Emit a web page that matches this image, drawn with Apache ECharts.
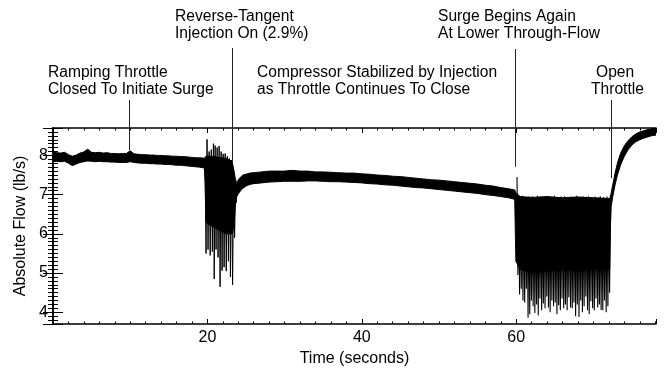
<!DOCTYPE html>
<html>
<head>
<meta charset="utf-8">
<script src="https://cdn.jsdelivr.net/npm/echarts@6/dist/echarts.min.js"></script>
<style>
html,body{margin:0;padding:0;background:#fff;}
#c{width:664px;height:372px;}
</style>
</head>
<body>
<div id="c"></div>
<script>
// ---- axis settings / tick labels ----
const xRange = [0, 78.1];
const yRange = [3.7, 8.7];
const xTickLabels = [20, 40, 60];
const yTickLabels = [4, 5, 6, 7, 8];

// ---- quiet-flow band (lower / upper edge of the noisy trace) ----
const bandT = [0,0.5,1,1.5,2,2.5,3,3.5,4,4.5,5,5.5,6,6.5,7,7.5,8,8.5,9,9.5,10,10.5,11,11.5,12,12.5,13,13.5,14,14.5,15,15.5,16,16.5,17,17.5,18,18.5,19,19.6,
  19.7,19.8,20.5,21.5,22.5,23.2,23.45,23.6,23.8,24.0,24.3,24.6,25,25.5,26,27,28,29,30,31,32,33,34,35,36,37,38,39,40,41,42,43,44,45,46,47,48,49,50,51,52,53,54,55,56,57,58,59,59.8,
  59.95,60.5,62,64,66,68,70,72.1,72.2,72.3,72.5,72.8,73.1,73.5,74,74.5,75,75.5,76,76.5,77,77.5,78.1];
const bandLo = [7.84,7.85,7.84,7.85,7.80,7.74,7.78,7.82,7.84,7.86,7.85,7.84,7.85,7.84,7.84,7.83,7.83,7.82,7.82,7.82,7.84,7.82,7.81,7.80,7.80,7.79,7.79,7.78,7.78,7.77,7.77,7.76,7.75,7.75,7.74,7.73,7.72,7.71,7.70,7.68,
  7.30,6.30,6.20,6.10,6.00,6.00,6.20,6.70,6.95,7.02,7.10,7.16,7.22,7.26,7.28,7.30,7.32,7.33,7.34,7.34,7.34,7.35,7.35,7.34,7.33,7.33,7.32,7.31,7.30,7.28,7.27,7.25,7.24,7.22,7.20,7.18,7.17,7.15,7.13,7.11,7.09,7.07,7.05,7.03,7.00,6.98,6.95,6.92,6.88,
  5.30,5.10,5.00,5.05,5.10,5.05,5.10,5.10,6.20,6.70,6.95,7.25,7.50,7.75,7.98,8.15,8.27,8.35,8.40,8.44,8.47,8.50,8.52];
const bandHi = [8.08,8.07,8.06,8.08,8.02,7.98,8.01,8.06,8.09,8.16,8.08,8.07,8.08,8.06,8.07,8.05,8.05,8.04,8.05,8.05,8.12,8.04,8.03,8.02,8.02,8.01,8.01,8.00,8.00,7.99,7.99,7.98,7.98,7.97,7.97,7.96,7.95,7.94,7.94,7.93,
  7.95,7.98,7.98,7.95,7.92,7.85,7.60,7.42,7.28,7.38,7.45,7.50,7.52,7.55,7.56,7.58,7.60,7.60,7.60,7.62,7.60,7.60,7.58,7.58,7.57,7.56,7.55,7.55,7.53,7.52,7.50,7.49,7.47,7.46,7.44,7.42,7.40,7.38,7.37,7.35,7.33,7.31,7.29,7.27,7.24,7.22,7.18,7.15,7.12,
  7.05,6.95,6.93,6.95,6.92,6.94,6.92,6.90,6.95,7.05,7.25,7.55,7.80,8.05,8.25,8.38,8.48,8.55,8.60,8.63,8.66,8.68,8.70];

// ---- first surge (t ~ 19.7 - 23.9 s): successive extremes ----
const s1T = [19.70,19.82,19.95,20.08,20.22,20.36,20.50,20.64,20.78,20.88,21.00,21.12,21.26,21.38,21.52,21.64,21.78,21.90,22.04,22.16,22.30,22.44,22.58,22.72,22.86,22.98,23.12,23.26,23.40,23.52,23.64,23.75,23.85];
const s1Y = [7.90,5.50,8.41,5.60,8.10,5.45,8.15,5.55,8.30,4.85,8.25,5.60,8.20,5.40,8.24,4.65,8.10,5.06,8.04,5.15,8.05,5.05,7.98,5.30,7.92,4.90,7.88,4.70,7.60,5.90,7.30,6.80,7.25];

// ---- second surge (t ~ 60 - 72.2 s): successive extremes ----
const s2T = [60.10,60.21,60.32,60.43,60.54,60.65,60.76,60.87,60.98,61.09,61.20,61.31,61.42,61.53,61.64,61.75,61.86,61.97,62.08,62.19,
  62.30,62.41,62.52,62.63,62.74,62.85,62.96,63.07,63.18,63.29,63.40,63.51,63.62,63.73,63.84,63.95,64.06,64.17,64.28,64.39,
  64.50,64.61,64.72,64.83,64.94,65.05,65.16,65.27,65.38,65.49,65.60,65.71,65.82,65.93,66.04,66.15,66.26,66.37,66.48,66.59,
  66.70,66.81,66.92,67.03,67.14,67.25,67.36,67.47,67.58,67.69,67.80,67.91,68.02,68.13,68.24,68.35,68.46,68.57,68.68,68.79,
  68.90,69.01,69.12,69.23,69.34,69.45,69.56,69.67,69.78,69.89,70.00,70.11,70.22,70.33,70.44,70.55,70.66,70.77,70.88,70.99,
  71.10,71.21,71.32,71.43,71.54,71.65,71.76,71.87,71.98,72.09,72.20];
const s2Y = [7.45,4.95,6.95,4.45,6.92,4.60,6.97,4.30,6.90,4.25,6.94,4.60,6.88,3.86,6.95,3.95,6.91,4.30,6.96,4.15,
  6.89,3.98,6.93,4.20,6.97,3.92,6.90,4.35,6.94,4.05,6.88,4.22,6.95,4.10,6.92,4.40,6.96,4.12,6.89,4.00,
  6.94,4.30,6.91,4.15,6.97,4.25,6.90,3.95,6.93,4.18,6.88,4.05,6.95,4.35,6.92,4.10,6.96,4.20,6.89,4.05,
  6.94,4.38,6.91,4.12,6.95,4.10,6.90,4.25,6.93,3.90,6.97,4.20,6.89,3.88,6.94,4.30,6.91,4.00,6.95,4.15,
  6.90,4.40,6.93,4.05,6.96,3.95,6.89,4.28,6.94,4.10,6.91,4.05,6.95,4.35,6.90,4.12,6.93,4.20,6.96,4.06,
  6.89,4.05,6.94,4.30,6.91,4.00,6.95,4.15,6.90,4.50,6.98];

// ---- annotations ----
const noteText = [
  ['Ramping Throttle', 'Closed To Initiate Surge'],
  ['Reverse-Tangent', 'Injection On (2.9%)'],
  ['Compressor Stabilized by Injection', 'as Throttle Continues To Close'],
  ['Surge Begins Again', 'At Lower Through-Flow'],
  ['Open', 'Throttle']
];
const noteT = [9.8, 23.2, null, 59.9, 72.3];     // time the pointer marks
const noteY = [8.14, 7.84, null, 7.71, 7.42];    // flow value where pointer ends

// layout of annotation text (pixels)
const noteLayout = [
  {x: 48, y: [73, 90], lineTop: 100},
  {x: 175, y: [17, 34], lineTop: 48},
  {x: 257, y: [73, 90], lineTop: null},
  {x: 438, y: [17, 34], lineTop: 49},
  {x: [596, 591], y: [73, 90], lineTop: 100}
];

const FONT = '"Liberation Sans", Arial, Helvetica, sans-serif';
const chart = echarts.init(document.getElementById('c'));

const xMajorLabels = {
  show: true, color: '#000', fontSize: 16, fontFamily: FONT, margin: 6,
  formatter: v => xTickLabels.indexOf(v) >= 0 ? String(v) : ''
};
const yMajorLabels = {
  show: true, color: '#000', fontSize: 16, fontFamily: FONT, margin: 5,
  formatter: v => yTickLabels.indexOf(Math.round(v * 1000) / 1000) >= 0 ? String(Math.round(v)) : ''
};
const axisLineStyle = {show: true, lineStyle: {color: '#000', width: 1.5}};

const option = {
  animation: false,
  grid: {left: 53, right: 8, top: 128, bottom: 43},
  xAxis: [
    {type: 'value', position: 'bottom', min: xRange[0], max: xRange[1], interval: 20,
     axisLine: axisLineStyle, axisTick: {show: true, inside: true, length: 5, lineStyle: {color: '#000'}},
     axisLabel: xMajorLabels, splitLine: {show: false},
     name: 'Time (seconds)', nameLocation: 'middle', nameGap: 27,
     nameTextStyle: {color: '#000', fontSize: 16, fontFamily: FONT}},
    {type: 'value', position: 'bottom', min: xRange[0], max: xRange[1], interval: 2,
     axisLine: {show: false}, axisTick: {show: true, inside: true, length: 2.5, lineStyle: {color: '#000'}},
     axisLabel: {show: false}, splitLine: {show: false}},
    {type: 'value', position: 'top', min: xRange[0], max: xRange[1], interval: 20,
     axisLine: axisLineStyle, axisTick: {show: true, inside: true, length: 5, lineStyle: {color: '#000'}},
     axisLabel: {show: false}, splitLine: {show: false}},
    {type: 'value', position: 'top', min: xRange[0], max: xRange[1], interval: 2,
     axisLine: {show: false}, axisTick: {show: true, inside: true, length: 2.5, lineStyle: {color: '#000'}},
     axisLabel: {show: false}, splitLine: {show: false}}
  ],
  yAxis: [
    {type: 'value', position: 'left', min: yRange[0], max: yRange[1],
     axisLine: axisLineStyle, axisTick: {show: true, inside: true, length: 10, lineStyle: {color: '#000'}},
     axisLabel: yMajorLabels, splitLine: {show: false},
     name: 'Absolute Flow (lb/s)', nameLocation: 'middle', nameGap: 24,
     nameTextStyle: {color: '#000', fontSize: 16, fontFamily: FONT}},
    {type: 'value', position: 'left', min: yRange[0], max: yRange[1], interval: 0.1,
     axisLine: {show: false}, axisTick: {show: true, inside: true, length: 5, lineStyle: {color: '#000'}},
     axisLabel: {show: false}, splitLine: {show: false}},
    {type: 'value', position: 'right', min: yRange[0], max: yRange[1],
     axisLine: axisLineStyle, axisTick: {show: true, inside: true, length: 10, lineStyle: {color: '#000'}},
     axisLabel: {show: false}, splitLine: {show: false}},
    {type: 'value', position: 'right', min: yRange[0], max: yRange[1], interval: 0.1,
     axisLine: {show: false}, axisTick: {show: true, inside: true, length: 5, lineStyle: {color: '#000'}},
     axisLabel: {show: false}, splitLine: {show: false}}
  ],
  series: [
    {
      type: 'custom', silent: true, clip: true,
      data: [[0]],
      renderItem: function (params, api) {
        const pts = [];
        for (let i = 0; i < bandT.length; i++) pts.push(api.coord([bandT[i], bandHi[i]]));
        for (let i = bandT.length - 1; i >= 0; i--) pts.push(api.coord([bandT[i], bandLo[i]]));
        return {type: 'polygon', shape: {points: pts}, style: {fill: '#000', stroke: '#000', lineWidth: 1}};
      }
    },
    {
      type: 'line', symbol: 'none', silent: true,
      data: s1T.map((t, i) => [t, s1Y[i]]),
      lineStyle: {color: '#000', width: 1}
    },
    {
      type: 'line', symbol: 'none', silent: true,
      data: s2T.map((t, i) => [t, s2Y[i]]),
      lineStyle: {color: '#000', width: 1.1}
    }
  ]
};
chart.setOption(option);

// annotations: text (layout) + pointer lines located through the chart's scales
const gfx = [];
noteText.forEach((lines, i) => {
  const L = noteLayout[i];
  lines.forEach((s, j) => {
    gfx.push({
      type: 'text',
      x: Array.isArray(L.x) ? L.x[j] : L.x, y: L.y[j],
      style: {text: s, fill: '#000', font: '15.6px ' + FONT, align: 'left', verticalAlign: 'middle'},
      z: 100
    });
  });
  if (noteT[i] != null) {
    const p = chart.convertToPixel({seriesIndex: 1}, [noteT[i], noteY[i]]);
    const px = Math.round(p[0]) + 0.5;
    gfx.push({
      type: 'line',
      shape: {x1: px, y1: L.lineTop, x2: px, y2: p[1]},
      style: {stroke: '#222', lineWidth: 1},
      z: 100
    });
  }
});
chart.setOption({graphic: gfx});
</script>
</body>
</html>
